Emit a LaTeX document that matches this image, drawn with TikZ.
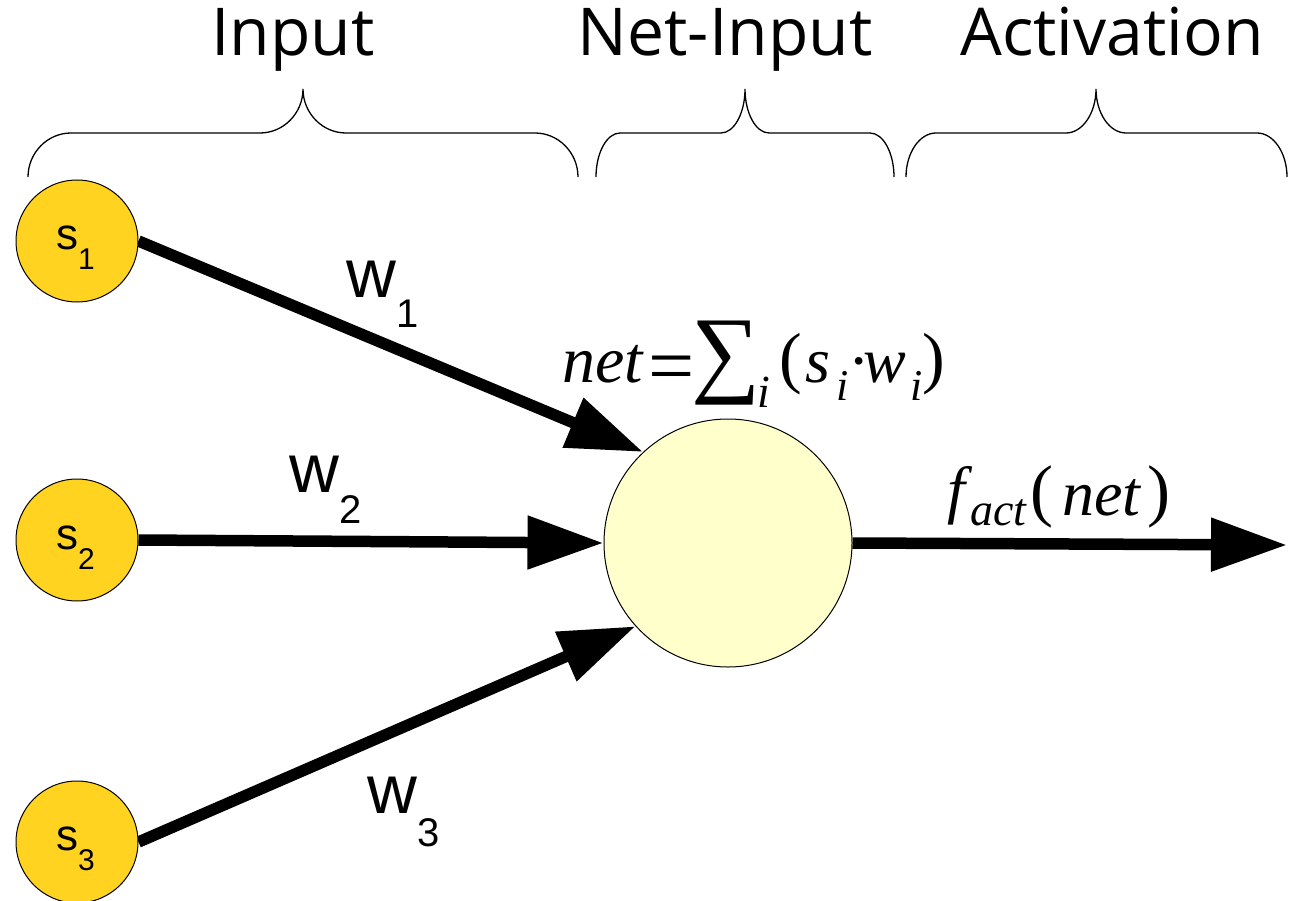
\documentclass[tikz,border=0pt]{standalone}
\usepackage{fontspec}
\usepackage{graphicx}
\usetikzlibrary{arrows.meta,backgrounds}
\newfontfamily\titlef{Open Sans}
\newfontfamily\arialf{Liberation Sans}
\newfontfamily\tnrf{Liberation Serif}
\newcommand\fs[1]{\fontsize{#1}{#1}\selectfont}
\newcommand\piece[3]{\makebox[#1pt][l]{\raisebox{#2pt}{#3}}}
\newcommand\drawbrace[4]{%
  \draw[bracestyle] (#1,177) .. controls (#1,153) and (#1+0.448*#4,133) .. (#1+#4,133)
    -- (#2-#4,133) .. controls (#2-0.448*#4,133) and (#2,113) .. (#2,89)
    .. controls (#2,113) and (#2+0.448*#4,133) .. (#2+#4,133)
    -- (#3-#4,133) .. controls (#3-0.448*#4,133) and (#3,153) .. (#3,177);}
\definecolor{sfill}{HTML}{FFD320}
\definecolor{cfill}{HTML}{FFFFCC}
\begin{document}
\begin{tikzpicture}[x=1pt,y=-1pt,
  bracestyle/.style={line width=1.3pt},
  title/.style={font=\titlef\fs{66}, anchor=base, inner sep=0},
  innode/.style={circle, draw, line width=1pt, fill=sfill, minimum size=122pt, inner sep=0},
  sumnode/.style={circle, draw, line width=1pt, fill=cfill, minimum size=248pt, inner sep=0},
  slabel/.style={anchor=base west, inner sep=0, font=\arialf},
  wlabel/.style={anchor=base west, inner sep=0, font=\arialf},
  arr/.style={line width=11.5pt, -{Triangle[length=76pt,width=51pt]}},
  formula/.style={anchor=base west, inner sep=0, font=\tnrf}]
\useasboundingbox (0,0) rectangle (1295,901);
% titles
\node[title] (tin) at (293,56) {Input};
\node[title] (tnet) at (725,56) {Net-Input};
\node[title] (tact) at (1112,56) {Activation};
% braces
\drawbrace{28}{303}{578}{43}
\drawbrace{596}{745}{894}{24}
\drawbrace{906}{1096}{1287}{30}
% nodes
\node[innode] (s1) at (77,241) {};
\node[innode] (s2) at (77,540) {};
\node[innode] (s3) at (77,842) {};
\node[sumnode] (c) at (728,543) {};
\coordinate (out) at (1287,545);
% node labels
\node[slabel] (s1l) at (56,250) {{\fs{44}s}\raisebox{-20pt}{\fs{30}1}};
\node[slabel] (s2l) at (56,549) {{\fs{44}s}\raisebox{-20pt}{\fs{30}2}};
\node[slabel] (s3l) at (56,850) {{\fs{44}s}\raisebox{-20pt}{\fs{30}3}};
% connectors
\begin{pgfonlayer}{background}
\draw[arr] (s1.east) -- (c.133);
\draw[arr] (s2.east) -- (c.west);
\draw[arr] (s3.east) -- (c.222);
\draw[arr] (c.east) -- (out);
\end{pgfonlayer}
% weight labels
\node[wlabel] (w1) at (346,297) {{\fs{69}w}\raisebox{-30pt}{\fs{40}1}};
\node[wlabel] (w2) at (289,492) {{\fs{69}w}\raisebox{-31pt}{\fs{40}2}};
\node[wlabel] (w3) at (367,813) {{\fs{69}w}\raisebox{-33pt}{\fs{40}3}};
% formulas
\node[formula] (net) at (562,382) {%
  \piece{86}{0}{\itshape\fs{66}net}%
  \piece{43}{-11}{\fs{82}=}%
  \piece{66}{-2}{\fs{97}∑}%
  \piece{22}{-25}{\itshape\fs{46}i}%
  \piece{26}{2}{\fs{68}(}%
  \piece{31}{0}{\itshape\fs{64}s}%
  \piece{12}{-18}{\itshape\fs{44}i}%
  \piece{15}{0}{\fs{64}·}%
  \piece{47}{0}{\itshape\fs{64}w}%
  \piece{12}{-18}{\itshape\fs{44}i}%
  \raisebox{2pt}{\fs{68})}};
\node[formula] (fact) at (947,513) {%
  \piece{23}{2}{\itshape\fs{64}f}%
  \piece{60}{-12}{\itshape\fs{46}act}%
  \piece{32}{0}{\fs{69}(}%
  \piece{85}{-2}{\itshape\fs{64}net}%
  \raisebox{0pt}{\fs{69})}};
\end{tikzpicture}
\end{document}
